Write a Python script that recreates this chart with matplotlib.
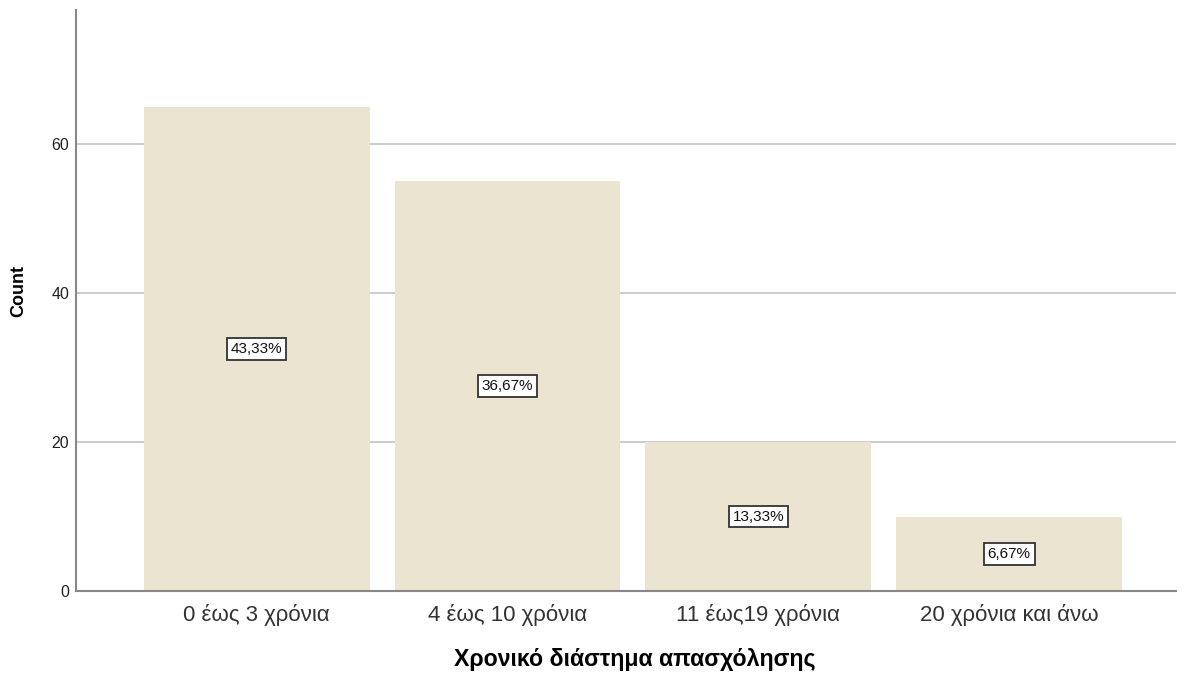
import matplotlib
matplotlib.use("Agg")
import matplotlib.pyplot as plt

categories = ["0 έως 3 χρόνια", "4 έως 10 χρόνια", "11 έως19 χρόνια", "20 χρόνια και άνω"]
counts = [65, 55, 20, 10]
pct_labels = ["43,33%", "36,67%", "13,33%", "6,67%"]
yticks = [0, 20, 40, 60]

plt.rcParams['font.family'] = ['Liberation Sans', 'DejaVu Sans']

fig = plt.figure(figsize=(11.86, 6.73), dpi=100)
ax = fig.add_axes([76/1186, 82/673, 1100/1186, 581/673])

x = list(range(len(categories)))
ax.bar(x, counts, width=0.9, color="#EAE4D0", zorder=2, linewidth=0)
for xi, c, lab in zip(x, counts, pct_labels):
    ax.text(xi, c/2, lab, ha="center", va="center", fontsize=11, zorder=4, color="#111111",
            bbox=dict(boxstyle="square,pad=0.25", fc="white", ec="#333333", lw=1.3))

ax.set_xlim(-0.72, 3.665)
ax.set_ylim(0, 78)
ax.set_yticks(yticks)
ax.set_yticklabels([str(v) for v in yticks], fontsize=11.5, color="#222222")
ax.set_xticks(x)
ax.set_xticklabels(categories, fontsize=16, color="#333333")
ax.tick_params(axis="both", length=0)
ax.tick_params(axis="y", pad=5)
ax.tick_params(axis="x", pad=9)
for v in yticks[1:]:
    ax.axhline(v, color="#C8C8C8", lw=1.3, zorder=1)
for s in ["top", "right"]:
    ax.spines[s].set_visible(False)
ax.spines["left"].set_color("#888888")
ax.spines["bottom"].set_color("#888888")
ax.spines["left"].set_linewidth(1.5)
ax.spines["bottom"].set_linewidth(1.5)
ax.spines["left"].set_zorder(3)
ax.spines["bottom"].set_zorder(3)

ax.set_ylabel("Count", fontsize=13, fontweight="bold")
ax.yaxis.set_label_coords(-49/1100, (591-291)/581)
ax.set_xlabel("Χρονικό διάστημα απασχόλησης", fontsize=16.7, fontweight="bold")
ax.xaxis.set_label_coords((635-76)/1100, -(648-591)/581)

fig.savefig("out.png", dpi=100)
